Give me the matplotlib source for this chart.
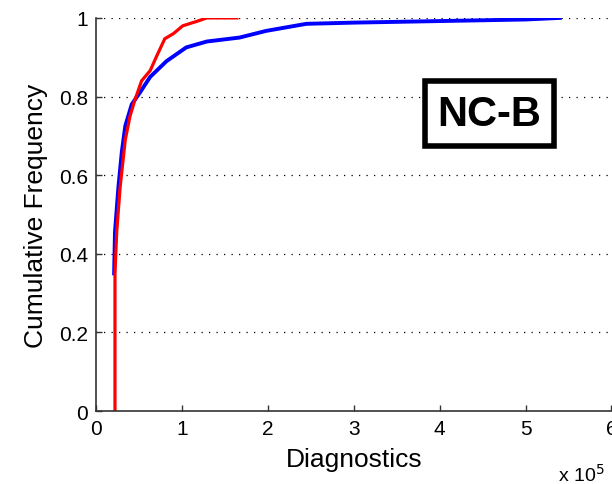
import matplotlib.pyplot as plt

plt.rcParams['font.family'] = ['Liberation Sans', 'DejaVu Sans']

# CDF curves, x in units of 1e5 diagnostics
blue_x = [0.21, 0.22, 0.26, 0.30, 0.34, 0.415, 0.51, 0.63, 0.82, 1.05, 1.29,
          1.67, 1.98, 2.45, 3.0, 4.0, 5.0, 5.4]
blue_y = [0.35, 0.455, 0.57, 0.66, 0.725, 0.78, 0.81, 0.85, 0.89, 0.925, 0.94,
          0.95, 0.967, 0.985, 0.988, 0.992, 0.996, 1.0]

red_x = [0.22, 0.22, 0.24, 0.28, 0.34, 0.395, 0.45, 0.53, 0.63, 0.71, 0.80, 0.90,
         1.01, 1.17, 1.29, 1.64]
red_y = [0.0, 0.35, 0.455, 0.57, 0.69, 0.75, 0.79, 0.84, 0.866, 0.905, 0.947, 0.96,
         0.98, 0.991, 1.0, 1.0]

x_ticks = [0, 1, 2, 3, 4, 5, 6]
y_ticks = [0, 0.2, 0.4, 0.6, 0.8, 1]
y_tick_labels = ['0', '0.2', '0.4', '0.6', '0.8', '1']

fig = plt.figure(figsize=(6.12, 4.85), dpi=100)
ax = fig.add_axes([0.157, 0.1505, 0.842, 0.8105])

ax.plot(blue_x, blue_y, color='#0000ff', lw=2.8, solid_joinstyle='miter')
ax.plot(red_x, red_y, color='#ff0000', lw=2.3, solid_joinstyle='miter')

ax.set_xlim(0, 6)
ax.set_ylim(0, 1)
ax.set_xticks(x_ticks)
ax.set_yticks(y_ticks)
ax.set_yticklabels(y_tick_labels)
ax.tick_params(direction='in', length=4, width=1, labelsize=15, pad=6, color='#333333')

for y in y_ticks[1:]:
    ax.axhline(y, color='black', lw=0.9, linestyle=(0, (1, 5)), zorder=0)

for s in ['top', 'right']:
    ax.spines[s].set_visible(False)
for s in ['left', 'bottom']:
    ax.spines[s].set_color('#333333')
    ax.spines[s].set_linewidth(1.2)

ax.set_xlabel('Diagnostics', fontsize=19, labelpad=6)
ax.set_ylabel('Cumulative Frequency', fontsize=19, labelpad=8)

fig.text(0.912, 0.006, r'x 10$^5$', fontsize=14, ha='left', va='baseline')

ax.text(4.58, 0.756, 'NC-B', fontsize=30, fontweight='bold', ha='center', va='center',
        bbox=dict(boxstyle='square,pad=0.3', facecolor='white', edgecolor='black', linewidth=4))

fig.savefig('out.png', dpi=100)
